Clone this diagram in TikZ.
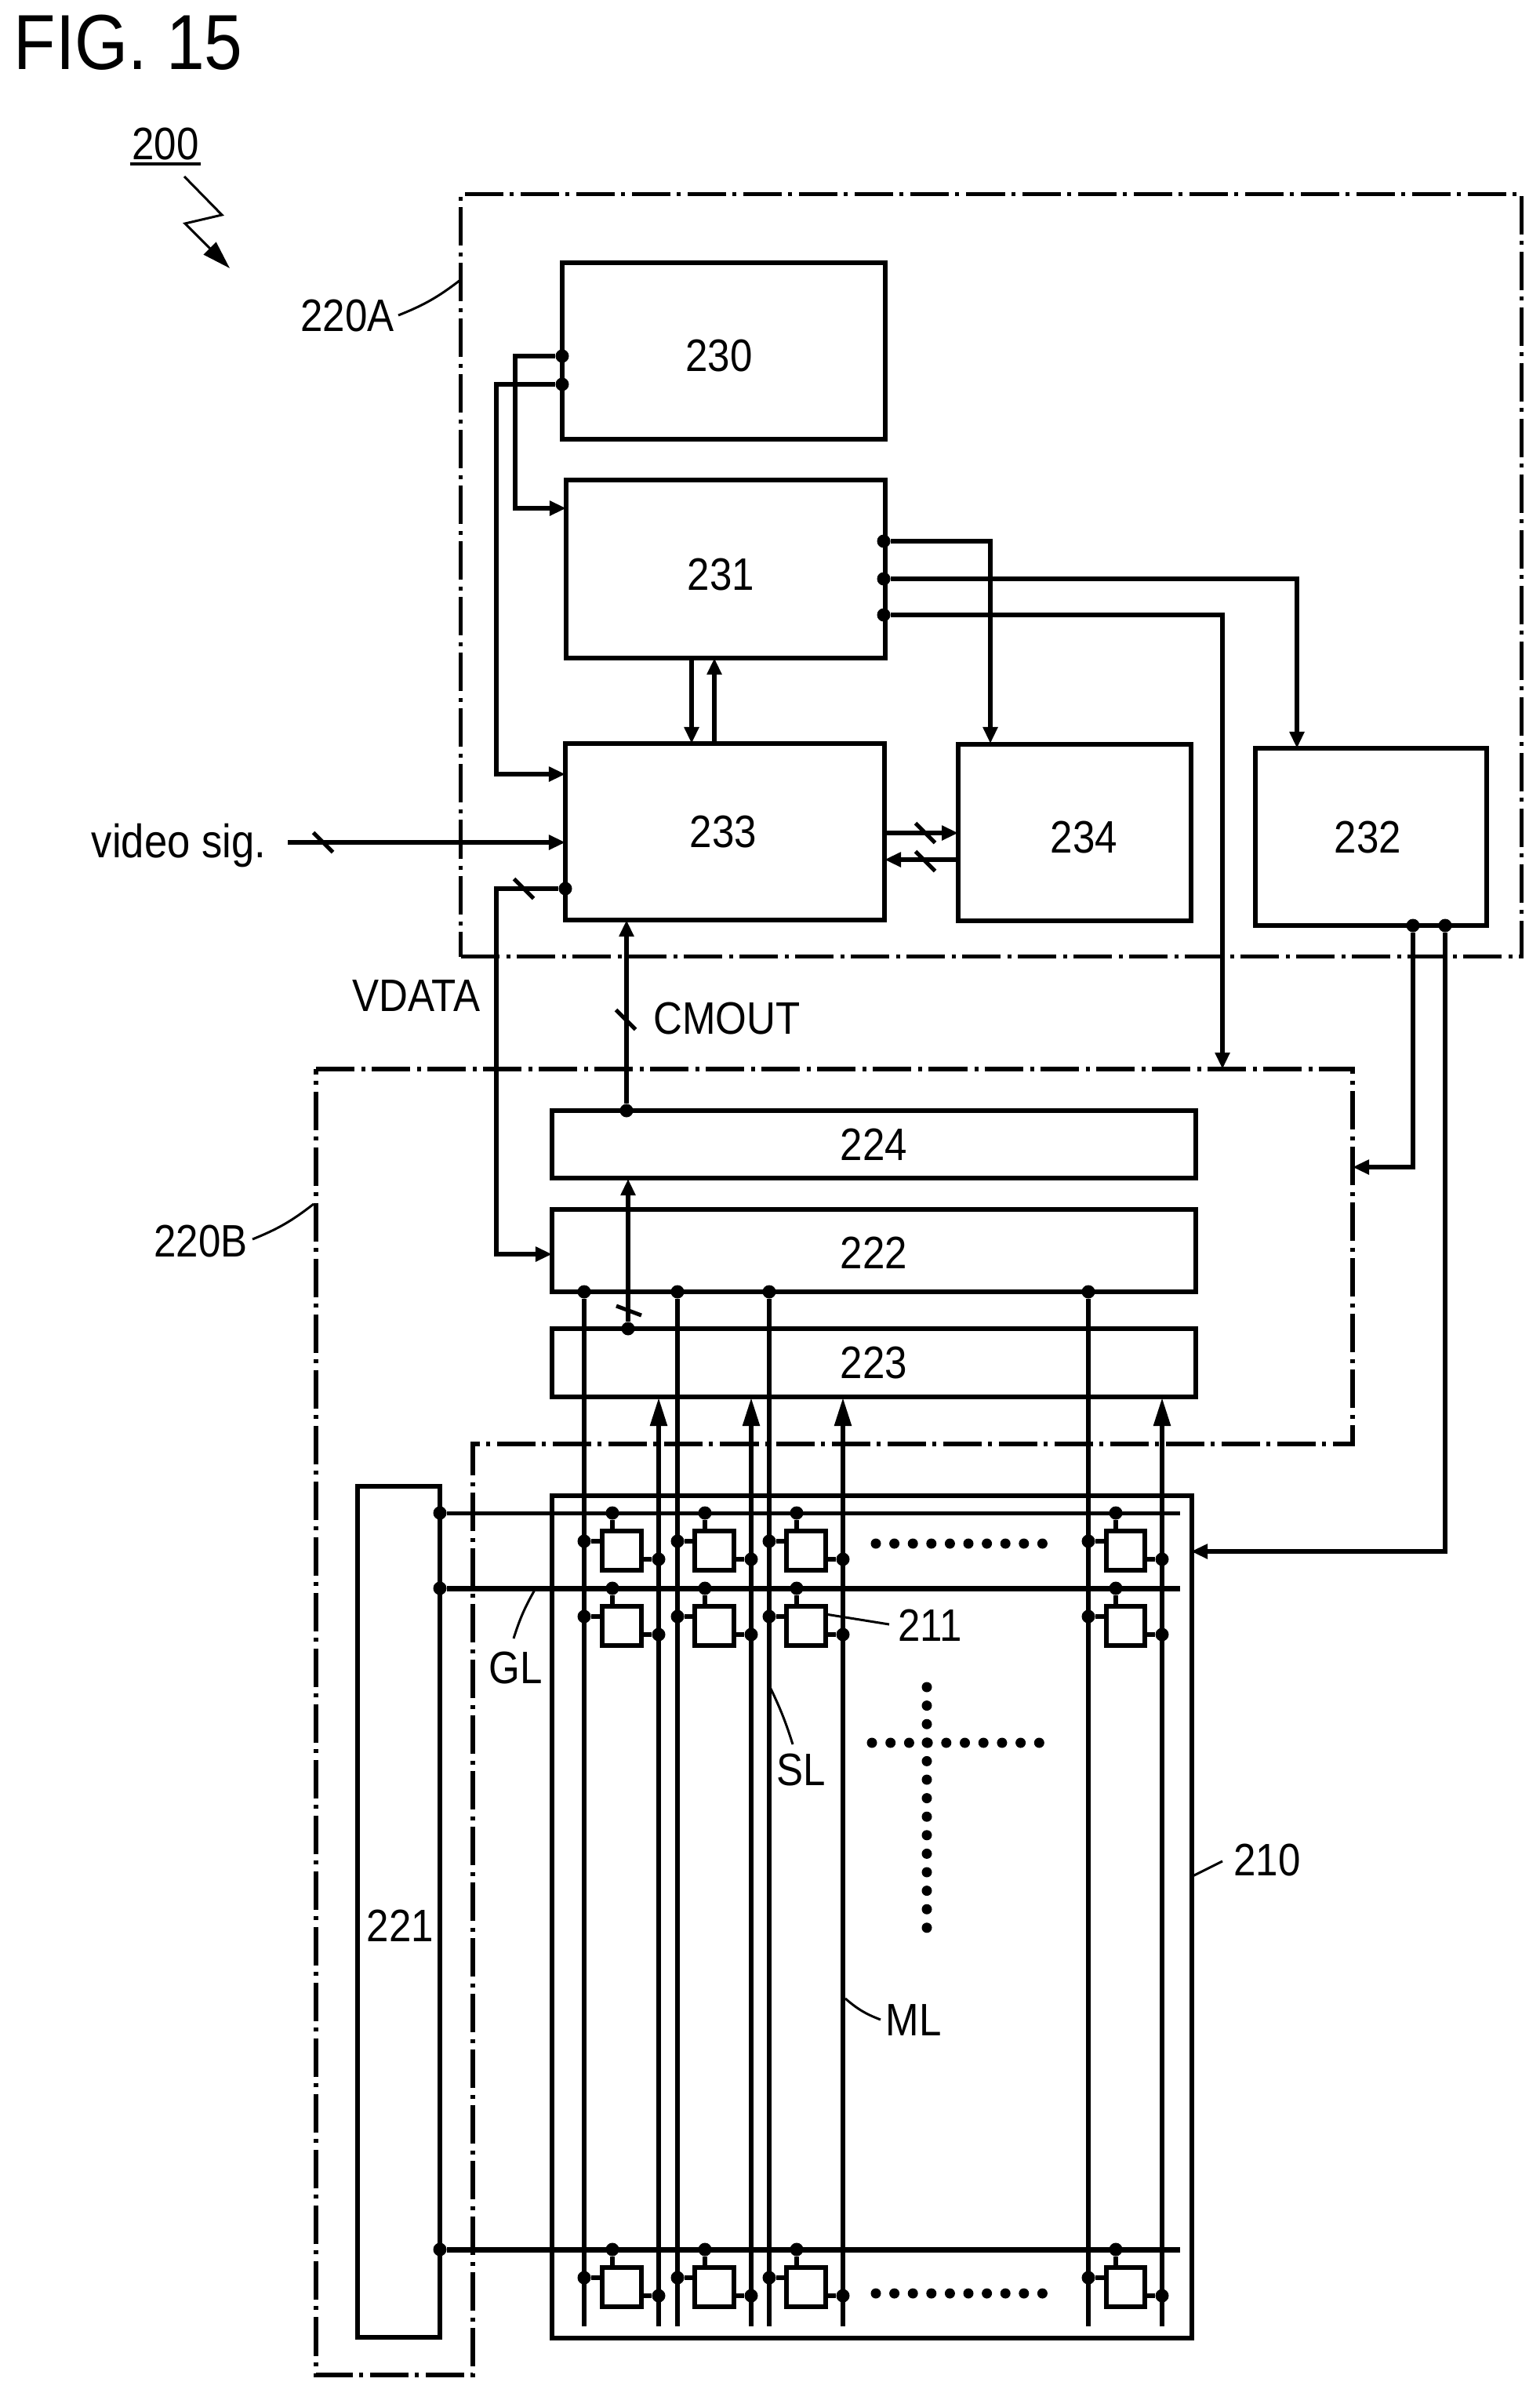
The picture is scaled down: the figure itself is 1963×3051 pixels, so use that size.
\documentclass[tikz,border=0pt]{standalone}
\usepackage{fontspec}
\setmainfont[FakeStretch=0.88]{Liberation Sans}
\usetikzlibrary{arrows.meta}

\begin{document}
\begin{tikzpicture}[x=0.01cm, y=-0.01cm]
	\tikzstyle{lbl}      = [inner sep=0pt, font=\fontsize{16.5}{18}\selectfont]
	\tikzstyle{block}    = [rectangle, draw=black, line width=0.06cm, inner sep=0pt, font=\fontsize{16.5}{18}\selectfont]
	\tikzstyle{cell}     = [rectangle, draw=black, line width=0.06cm, inner sep=0pt, minimum width=0.49cm, minimum height=0.5cm]
	\tikzstyle{dot}      = [circle, fill=black, inner sep=0pt, minimum size=0.17cm]
	\tikzstyle{ldot}     = [circle, fill=black, inner sep=0pt, minimum size=0.13cm]
	\tikzstyle{wire}     = [line width=0.055cm]
	\tikzstyle{arrow}    = [wire, -{Triangle[length=0.21cm, width=0.18cm]}]
	\tikzstyle{bigarrow} = [wire, -{Triangle[length=0.36cm, width=0.21cm]}]
	\tikzstyle{leader}   = [line width=0.03cm]
	\tikzstyle{slash}    = [line width=0.05cm]
	\tikzstyle{dashdot}  = [line width=0.055cm, dash pattern=on 0.49cm off 0.09cm on 0.05cm off 0.08cm]

	\useasboundingbox (0,0) rectangle (1963,3051);

	% outer dash-dot frames
	\node[rectangle, dashdot, draw=black, inner sep=0pt, minimum width=13.52cm, minimum height=9.715cm] (f220A) at (1264,733.5) {};
	\draw[dashdot] (403,1363) -- (1725,1363) -- (1725,1841) -- (603,1841) -- (603,3028) -- (403,3028) -- cycle;

	% blocks
	\foreach \name/\x/\y/\w/\h/\hs/\th in {230/923/447.5/412/225/-0.12cm/0.53cm, 231/925.5/725.5/407/227/-0.12cm/0.55cm, 233/924.5/1060.5/407/225/-0.04cm/0.41cm, 234/1370.5/1061/297/225/0.24cm/0.53cm, 232/1748.5/1067/295/226/-0.08cm/0.41cm, 224/1114.5/1459/821/86/0cm/0.41cm, 222/1114.5/1594.5/821/105/0cm/0.45cm, 223/1114.5/1737.5/821/87/0cm/0.41cm, 221/508.5/2437.5/105/1085/0.04cm/0.76cm}
		\node[block, minimum width=\w*0.01cm, minimum height=\h*0.01cm, text height=\th] (b\name) at (\x,\y) {\hspace*{\hs}\name};
	\node[block, minimum width=8.16cm, minimum height=10.74cm] (b210) at (1112,2444) {};

	% pins on the blocks
	\foreach \text/\x/\y in {d230a/717/454, d230b/717/490, d233v/721/1133, d231a/1127/690, d231b/1127/738, d231c/1127/784, d232a/1802/1180, d232b/1843/1180, d224/799/1416, d223/801/1694}
		\node[dot] (\text) at (\x, \y) {};

	\foreach \text/\x/\y in {vsig/367/1074, i233v/721/1074, i233c/799/1173, i224/801/1503, o233/1128/1062, i234/1222/1062, o234/1222/1096, i233r/1128/1096, o231d/882/839, i233d/882/948, o233u/911/948, i231u/911/839, i231/722/648, i233w/721/987, i222/704/1599, i234t/1263/948, i232t/1654/954, i220t/1559/1363, i220r/1725/1488, i210/1519/1978}
		\coordinate (\text) at (\x, \y);

	\foreach \from/\to in {vsig/i233v, d224/i233c, d223/i224, o233/i234, o234/i233r, o231d/i233d, o233u/i231u}
		\path[arrow] (\from) edge (\to);

	% elbow wires
	\draw[arrow] (d230a) -- ++(-60,0) |- (i231);
	\draw[arrow] (d230b) -- ++(-84,0) |- (i233w);
	\draw[arrow] (d233v) -- ++(-88,0) |- (i222);
	\draw[arrow] (d231a) -| (i234t);
	\draw[arrow] (d231b) -| (i232t);
	\draw[arrow] (d231c) -| (i220t);
	\draw[arrow] (d232a) |- (i220r);
	\draw[arrow] (d232b) |- (i210);

	% bus marks
	\foreach \text/\x/\y in {m1/412/1074, m2/668/1133, m3/798/1300, m4/1180/1062, m5/1180/1098}
		\draw[slash] (\x,\y) ++(-12.5,-12.5) coordinate (\text a) -- ++(25,25) coordinate (\text b);
	\coordinate (m6a) at (786,1665);
	\coordinate (m6b) at (818,1677);
	\draw[slash] (m6a) -- (m6b);

	% gate lines
	\foreach \g/\w in {1929/5, 2025/7, 2868/7} {
		\node[dot] (gl\g) at (561,\g) {};
		\coordinate (ge\g) at (1505,\g);
		\draw[line width=\w*0.01cm] (gl\g) -- (ge\g);
	}

	% signal and monitor lines
	\foreach \x/\m in {745/840, 864/958, 981/1075, 1388/1482} {
		\node[dot] (sd\x) at (\x,1647) {};
		\coordinate (se\x) at (\x,2966);
		\coordinate (me\x) at (\m,2966);
		\coordinate (mt\x) at (\m,1782);
		\draw[wire] (sd\x) -- (se\x);
		\path[bigarrow] (me\x) edge (mt\x);
	}

	% pixels
	\foreach \g in {1929, 2025, 2868}
		\foreach \x/\s/\m in {781/745/840, 899/864/958, 1016/981/1075, 1423/1388/1482} {
			\node[cell] (c\g\x) at (\x+12,\g+48) {};
			\node[dot] (gd\g\x) at (\x,\g) {};
			\node[dot] (sd\g\x) at (\s,\g+36) {};
			\node[dot] (md\g\x) at (\m,\g+59) {};
			\draw[wire] (gd\g\x) -- (gd\g\x |- c\g\x.north);
			\draw[wire] (sd\g\x) -- (sd\g\x -| c\g\x.west);
			\draw[wire] (md\g\x) -- (md\g\x -| c\g\x.east);
		}

	% dotted ellipses
	\foreach \i in {0,...,9} {
		\node[ldot] (ra\i) at (1117+23.6*\i,1968) {};
		\node[ldot] (rb\i) at (1117+23.6*\i,2924) {};
		\node[ldot] (ch\i) at (1112+23.7*\i,2222) {};
	}
	\foreach \i in {0,...,13}
		\node[ldot] (cv\i) at (1182,2151+23.6*\i) {};

	% texts
	\node[lbl, anchor=west, font=\fontsize{28.3}{30}\selectfont] (fig) at (17,54) {FIG. 15};
	\node[lbl, inner xsep=0.02cm, inner ysep=0.04cm] (n200) at (211,183.5) {200};
	\draw[line width=0.04cm] (n200.south west) -- (n200.south east);
	\foreach \text/\x/\y in {220A/443/403, 220B/256/1583, VDATA/531/1270, CMOUT/927/1299, GL/658/2126, SL/1022/2256, 211/1186/2072, 210/1616/2371, ML/1165/2576}
		\node[lbl] (n\text) at (\x, \y) {\text};
	\node[lbl, anchor=base, font=\fontsize{17}{18}\selectfont] (nvideo) at (228,1093) {video sig.};

	% leader lines
	\foreach \text/\ax/\ay/\bx/\by/\ang in {220A/508/402/587/357/8, 220B/322/1580/400/1535/8, GL/655/2089/682/2027/-6, SL/983/2153/1011/2224/-4, 211/1053/2058/1134/2071/0, 210/1521/2392/1559/2373/0, ML/1078/2548/1123/2575/10} {
		\coordinate (\text a) at (\ax,\ay);
		\coordinate (\text b) at (\bx,\by);
		\draw[leader] (\text a) to[bend right=\ang] (\text b);
	}

	% zigzag arrow
	\coordinate (z1) at (235,225);
	\coordinate (z2) at (283,274);
	\coordinate (z3) at (236,285);
	\coordinate (z4) at (293,342);
	\draw[leader, -{Triangle[length=0.36cm, width=0.22cm]}] (z1) -- (z2) -- (z3) -- (z4);

\end{tikzpicture}
\end{document}
